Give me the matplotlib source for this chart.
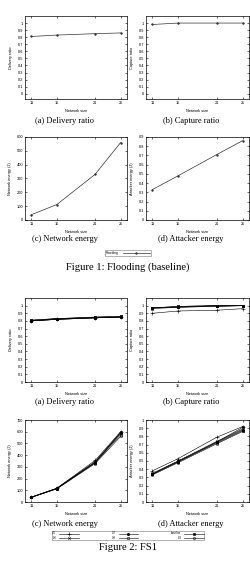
import matplotlib
matplotlib.use('Agg')
import matplotlib.pyplot as plt

# data
sizes = [11, 15, 21, 25]

# Figure 1: flooding baseline
flood_delivery = [0.81, 0.83, 0.85, 0.86]
flood_capture = [0.98, 1.0, 1.0, 1.0]
flood_net_energy = [38, 112, 330, 560]
flood_att_energy = [0.33, 0.48, 0.71, 0.86]

# Figure 2: FS1
fs1_labels = ['0.5', '0.6', '0.7', '0.8', 'baseline', '0.9']
fs1_delivery = [
    [0.80, 0.82, 0.84, 0.85],
    [0.81, 0.83, 0.85, 0.86],
    [0.80, 0.82, 0.84, 0.85],
    [0.80, 0.82, 0.84, 0.85],
    [0.81, 0.83, 0.85, 0.86],
    [0.80, 0.83, 0.84, 0.85],
]
fs1_capture = [
    [0.90, 0.93, 0.94, 0.96],
    [0.97, 0.99, 1.0, 1.0],
    [0.97, 0.98, 0.99, 1.0],
    [0.96, 0.98, 0.99, 1.0],
    [0.97, 0.99, 1.0, 1.0],
    [0.97, 0.98, 1.0, 1.0],
]
fs1_net_energy = [
    [42, 118, 355, 600],
    [41, 116, 345, 590],
    [40, 115, 340, 585],
    [40, 114, 335, 575],
    [42, 117, 337, 596],
    [39, 112, 328, 560],
]
fs1_att_energy = [
    [0.38, 0.53, 0.79, 0.92],
    [0.35, 0.50, 0.74, 0.89],
    [0.34, 0.49, 0.73, 0.88],
    [0.34, 0.49, 0.72, 0.87],
    [0.34, 0.50, 0.73, 0.91],
    [0.33, 0.48, 0.71, 0.86],
]

W, H = 251, 568
fig = plt.figure(figsize=(W / 100, H / 100), dpi=100)
fig.patch.set_facecolor('white')

SANS = 'Liberation Sans'
SERIF = 'Liberation Serif'
TFS = 2.8


def make_axes(x0, y0, x1, y1):
    return fig.add_axes([x0 / W, 1 - y1 / H, (x1 - x0) / W, (y1 - y0) / H])


def style(ax, ylabel, ylim, yticks, yfmt):
    ax.set_xlim(10, 26)
    ax.set_ylim(*ylim)
    ax.set_xticks(sizes)
    ax.set_xticklabels([str(s) for s in sizes], fontsize=TFS, family=SANS)
    ax.set_yticks(yticks)
    ax.set_yticklabels([yfmt(v) for v in yticks], fontsize=TFS, family=SANS)
    ax.tick_params(direction='in', length=1.5, width=0.4, pad=1.5,
                   top=True, right=True)
    for s in ax.spines.values():
        s.set_linewidth(0.5)
    ax.set_xlabel('Network size', fontsize=TFS, family=SANS, labelpad=2.5)
    ax.set_ylabel(ylabel, fontsize=TFS, family=SANS, labelpad=3)


def ratio_fmt(v):
    if abs(v) < 1e-9:
        return '0'
    if abs(v - 1) < 1e-9:
        return '1'
    return '%.1f' % v


def int_fmt(v):
    return '%d' % v


ratio_ticks = [i / 10 for i in range(11)]
markers = ['+', 'x', (6, 2, 0), 's', 's', 'o']
fills = ['k', 'k', 'k', 'none', 'k', 'none']
msizes = [2.2, 1.8, 2.2, 1.6, 2.0, 1.6]

# ---------- Figure 1 ----------
ax = make_axes(25, 16, 127, 99)
ax.plot(sizes, flood_delivery, color='#333333', lw=0.5, marker='+', ms=2)
style(ax, 'Delivery ratio', (-0.075, 1.1), ratio_ticks, ratio_fmt)

ax = make_axes(146, 16, 249, 99)
ax.plot(sizes, flood_capture, color='#333333', lw=0.5, marker='+', ms=2)
style(ax, 'Capture ratio', (-0.075, 1.1), ratio_ticks, ratio_fmt)

ax = make_axes(25, 137, 127, 220)
line_flood, = ax.plot(sizes, flood_net_energy, color='#333333', lw=0.5,
                      marker='+', ms=2, label='Flooding')
style(ax, 'Network energy (J)', (0, 600), list(range(0, 601, 100)), int_fmt)

ax = make_axes(146, 137, 249, 220)
ax.plot(sizes, flood_att_energy, color='#333333', lw=0.5, marker='+', ms=2)
style(ax, 'Attacker energy (J)', (0, 0.9), [i / 10 for i in range(10)], ratio_fmt)

fig.text(65 / W, 1 - 121 / H, '(a) Delivery ratio', fontsize=6, family=SERIF,
         ha='center', va='center')
fig.text(191 / W, 1 - 121 / H, '(b) Capture ratio', fontsize=6, family=SERIF,
         ha='center', va='center')
fig.text(65 / W, 1 - 239 / H, '(c) Network energy', fontsize=6, family=SERIF,
         ha='center', va='center')
fig.text(191 / W, 1 - 239 / H, '(d) Attacker energy', fontsize=6, family=SERIF,
         ha='center', va='center')

leg = fig.legend(handles=[line_flood], loc='center',
                 bbox_to_anchor=(128 / W, 1 - 253 / H), fontsize=2.4,
                 markerfirst=False, frameon=True, fancybox=False,
                 handlelength=8, borderpad=0.25, handletextpad=1.2)
leg.get_frame().set_linewidth(0.4)
leg.get_frame().set_edgecolor('#555555')
for t in leg.get_texts():
    t.set_family(SANS)

fig.text(128 / W, 1 - 267 / H, 'Figure 1: Flooding (baseline)', fontsize=7.6,
         family=SERIF, ha='center', va='center')

# ---------- Figure 2 ----------
def plot_fs1(ax, series):
    handles = []
    for i, vals in enumerate(series):
        h, = ax.plot(sizes, vals, color='k', lw=0.4, marker=markers[i],
                     ms=msizes[i], mfc=fills[i], mec='k', mew=0.4,
                     label=fs1_labels[i])
        handles.append(h)
    return handles


ax = make_axes(25, 298, 127, 382)
plot_fs1(ax, fs1_delivery)
style(ax, 'Delivery ratio', (0, 1.1), ratio_ticks, ratio_fmt)

ax = make_axes(146, 298, 249, 382)
plot_fs1(ax, fs1_capture)
style(ax, 'Capture ratio', (0, 1.1), ratio_ticks, ratio_fmt)

ax = make_axes(25, 420, 127, 502)
fs1_handles = plot_fs1(ax, fs1_net_energy)
style(ax, 'Network energy (J)', (0, 700), list(range(0, 701, 100)), int_fmt)

ax = make_axes(146, 420, 249, 502)
plot_fs1(ax, fs1_att_energy)
style(ax, 'Attacker energy (J)', (0, 1), ratio_ticks, ratio_fmt)

fig.text(65 / W, 1 - 402 / H, '(a) Delivery ratio', fontsize=6, family=SERIF,
         ha='center', va='center')
fig.text(191 / W, 1 - 402 / H, '(b) Capture ratio', fontsize=6, family=SERIF,
         ha='center', va='center')
fig.text(65 / W, 1 - 524 / H, '(c) Network energy', fontsize=6, family=SERIF,
         ha='center', va='center')
fig.text(191 / W, 1 - 524 / H, '(d) Attacker energy', fontsize=6, family=SERIF,
         ha='center', va='center')

leg = fig.legend(handles=fs1_handles, loc='center', ncol=3,
                 bbox_to_anchor=(128 / W, 1 - 535.5 / H), fontsize=2.0,
                 markerfirst=False, frameon=True, fancybox=False,
                 handlelength=7, handleheight=0.5, borderpad=0.15,
                 handletextpad=1, borderaxespad=0,
                 columnspacing=12, labelspacing=0.05)
leg.get_frame().set_linewidth(0.4)
leg.get_frame().set_edgecolor('#555555')
for t in leg.get_texts():
    t.set_family(SANS)

fig.text(128 / W, 1 - 547 / H, 'Figure 2: FS1', fontsize=7.6,
         family=SERIF, ha='center', va='center')

fig.savefig('out.png', dpi=100, facecolor='white')
